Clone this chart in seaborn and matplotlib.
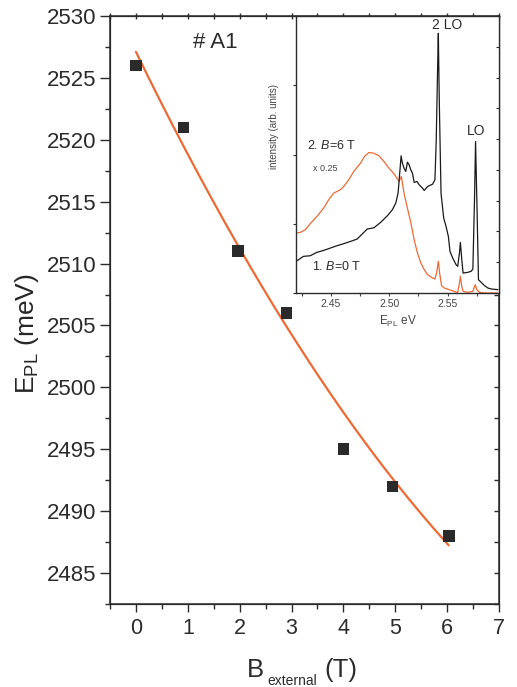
import numpy as np
import pandas as pd
import matplotlib
matplotlib.use("Agg")
import matplotlib.pyplot as plt
from matplotlib.ticker import MultipleLocator, NullFormatter
import seaborn as sns

# --- main panel: PL peak energy vs external field (sample #A1) ---
b_field = [0.0, 0.92, 1.97, 2.90, 4.00, 4.95, 6.03]
e_pl = [2526.0, 2521.0, 2511.0, 2506.0, 2495.0, 2492.0, 2488.0]

# quadratic fit E(B) = E0 + b*B + c*B^2
fit_e0, fit_b, fit_c = 2527.1, -8.6, 0.33
fit_range = (0.0, 6.03)

# --- inset: PL spectra (energy in eV, intensity in arb. units) ---
spec0_e = [2.4201, 2.4264, 2.4322, 2.4379, 2.4437, 2.4494, 2.4552, 2.4609, 2.4667, 2.4724,
           2.4810, 2.4868, 2.4925, 2.4983, 2.5026, 2.5055, 2.5075, 2.5089, 2.5101, 2.5112,
           2.5126, 2.5141, 2.5155, 2.5170, 2.5184, 2.5198, 2.5213, 2.5236, 2.5256, 2.5284,
           2.5299, 2.5328, 2.5371, 2.5391, 2.5402, 2.5414, 2.5420, 2.5428, 2.5443, 2.5466,
           2.5486, 2.5506, 2.5520, 2.5543, 2.5572, 2.5586, 2.5601, 2.5609, 2.5621, 2.5632,
           2.5672, 2.5701, 2.5716, 2.5730, 2.5739, 2.5750, 2.5764, 2.5787, 2.5816, 2.5845,
           2.5874, 2.5931]
spec0_i = [0.457, 0.529, 0.538, 0.587, 0.615, 0.649, 0.683, 0.712, 0.745, 0.779,
           0.923, 0.942, 1.019, 1.115, 1.202, 1.298, 1.442, 1.731, 1.981, 1.875,
           1.803, 1.755, 1.889, 1.851, 1.779, 1.731, 1.596, 1.611, 1.563, 1.514,
           1.481, 1.538, 1.572, 1.635, 2.212, 3.269, 3.750, 2.788, 1.442, 1.082,
           0.962, 0.817, 0.601, 0.505, 0.409, 0.385, 0.577, 0.731, 0.481, 0.288,
           0.298, 0.313, 0.346, 1.346, 2.188, 1.346, 0.192, 0.154, 0.106, 0.072,
           0.058, 0.048]

spec6_e = [2.4201, 2.4236, 2.4279, 2.4322, 2.4379, 2.4437, 2.4480, 2.4523, 2.4580, 2.4609,
           2.4652, 2.4695, 2.4753, 2.4787, 2.4825, 2.4868, 2.4911, 2.4954, 2.4997, 2.5040,
           2.5083, 2.5103, 2.5126, 2.5155, 2.5184, 2.5213, 2.5241, 2.5270, 2.5299, 2.5328,
           2.5371, 2.5391, 2.5405, 2.5420, 2.5431, 2.5448, 2.5471, 2.5514, 2.5572, 2.5586,
           2.5601, 2.5609, 2.5621, 2.5632, 2.5672, 2.5716, 2.5736, 2.5750, 2.5773, 2.5816,
           2.5931]
spec6_i = [0.865, 0.875, 0.913, 1.000, 1.106, 1.226, 1.346, 1.442, 1.490, 1.538,
           1.635, 1.755, 1.875, 1.971, 2.029, 2.019, 1.981, 1.899, 1.803, 1.721,
           1.611, 1.683, 1.442, 1.226, 1.019, 0.769, 0.577, 0.433, 0.337, 0.264,
           0.216, 0.202, 0.288, 0.457, 0.288, 0.106, 0.072, 0.048, 0.014, 0.010,
           0.144, 0.240, 0.096, 0.024, 0.010, 0.024, 0.120, 0.048, 0.010, 0.0,
           0.0]

INK = "#2b2b2b"
ORANGE = "#EE6A35"
W, H = 517, 687

sns.set_style("ticks")
plt.rcParams["font.family"] = ["Liberation Sans", "DejaVu Sans"]
plt.rcParams["mathtext.fontset"] = "custom"
plt.rcParams["mathtext.rm"] = "Liberation Sans"
plt.rcParams["mathtext.it"] = "Liberation Sans:italic"
plt.rcParams["mathtext.bf"] = "Liberation Sans:bold"
plt.rcParams["axes.edgecolor"] = INK
plt.rcParams["text.color"] = INK
plt.rcParams["xtick.color"] = INK
plt.rcParams["ytick.color"] = INK

fig = plt.figure(figsize=(W / 100, H / 100), dpi=100)
ax = fig.add_axes([0.2128, 0.1208, 0.7524, 0.8559])

df_pts = pd.DataFrame({"B": b_field, "E": e_pl})
bb = np.linspace(fit_range[0], fit_range[1], 200)
df_fit = pd.DataFrame({"B": bb, "E": fit_e0 + fit_b * bb + fit_c * bb ** 2})

sns.lineplot(data=df_fit, x="B", y="E", ax=ax, color=ORANGE, lw=1.6, zorder=2)
sns.scatterplot(data=df_pts, x="B", y="E", ax=ax, marker="s", s=70, color="#2a2a2a",
                edgecolor="none", zorder=3)

ax.set_xlim(-0.5, 7.0)
ax.set_ylim(2482.5, 2530)
ax.xaxis.set_major_locator(MultipleLocator(1))
ax.xaxis.set_minor_locator(MultipleLocator(0.5))
ax.yaxis.set_major_locator(MultipleLocator(5))
ax.yaxis.set_minor_locator(MultipleLocator(2.5))
ax.tick_params(axis="y", which="major", direction="out", length=7, width=1, labelsize=16, pad=3)
ax.tick_params(axis="y", which="minor", direction="out", length=3.8, width=1)
ax.tick_params(axis="x", which="major", direction="out", length=6, width=1, labelsize=15.5, pad=4)
ax.tick_params(axis="x", which="minor", direction="out", length=3.5, width=1)
for s in ax.spines.values():
    s.set_linewidth(1.1)
ax.set_xlabel("")
ax.set_ylabel(r"E$_{\mathrm{PL}}$ (meV)", fontsize=19)
ax.yaxis.set_label_coords(-0.178, 0.46)
ax.text(0.27, 0.955, "# A1", transform=ax.transAxes, fontsize=16,
        ha="center", va="center")

# x-axis title built from pieces so the subscript sits small and low
fig.text(247 / W, 1 - 677 / H, "B", fontsize=18.5, ha="left", va="baseline")
fig.text(267 / W, 1 - 685 / H, "external", fontsize=10, ha="left", va="baseline")
fig.text(324 / W, 1 - 677 / H, "(T)", fontsize=18.5, ha="left", va="baseline")

# mirrored inward ticks on the right and top frames
axr = ax.twinx()
axr.set_ylim(ax.get_ylim())
axr.yaxis.set_major_locator(MultipleLocator(2.5))
axr.yaxis.set_major_formatter(NullFormatter())
axr.tick_params(axis="y", direction="in", length=3.5, width=1)
axt = ax.twiny()
axt.set_xlim(ax.get_xlim())
axt.xaxis.set_major_locator(MultipleLocator(0.5))
axt.xaxis.set_major_formatter(NullFormatter())
axt.tick_params(axis="x", direction="inout", length=4, width=1)

# --- inset spectra ---
axi = fig.add_axes([0.5725, 0.5735, 0.3927, 0.4032])
axi.set_facecolor("white")
df0 = pd.DataFrame({"E": spec0_e, "I": spec0_i})
df6 = pd.DataFrame({"E": spec6_e, "I": spec6_i})
sns.lineplot(data=df6, x="E", y="I", ax=axi, color=ORANGE, lw=0.9, sort=False)
sns.lineplot(data=df0, x="E", y="I", ax=axi, color="#1a1a1a", lw=0.9, sort=False)
axi.set_xlim(2.42, 2.594)
axi.set_ylim(0, 4)
axi.xaxis.set_major_locator(MultipleLocator(0.05))
axi.xaxis.set_minor_locator(MultipleLocator(0.025))
axi.xaxis.set_major_formatter(plt.FormatStrFormatter("%.2f"))
axi.yaxis.set_major_locator(MultipleLocator(1))
axi.yaxis.set_major_formatter(NullFormatter())
axi.yaxis.set_minor_locator(MultipleLocator(4 / 9))
axi.tick_params(axis="x", which="both", direction="out", length=2.5, width=0.8,
                labelsize=7.5, colors="#444444", pad=2)
axi.tick_params(axis="y", which="major", direction="out", length=2.5, width=0.8,
                left=True, right=False)
axi.tick_params(axis="y", which="minor", direction="in", length=2.5, width=0.8,
                left=False, right=True)
for s in axi.spines.values():
    s.set_linewidth(1.0)
axi.set_xlabel(r"E$_{\mathrm{PL}}$ eV", fontsize=8.5, color="#444444", labelpad=3)
axi.set_ylabel("intensity (arb. units)", fontsize=7, color="#444444")
axi.yaxis.set_label_coords(-0.085, 0.6)

axi.text(0.742, 0.967, "2 LO", transform=axi.transAxes, fontsize=10, ha="center", va="center")
axi.text(0.887, 0.585, "LO", transform=axi.transAxes, fontsize=10, ha="center", va="center")
axi.text(0.053, 0.534, r"2. $\mathit{B}$=6 T", transform=axi.transAxes, fontsize=9,
         ha="left", va="center")
axi.text(0.082, 0.451, "x 0.25", transform=axi.transAxes, fontsize=6.5,
         ha="left", va="center", color="#444444")
axi.text(0.077, 0.094, r"1. $\mathit{B}$=0 T", transform=axi.transAxes, fontsize=9,
         ha="left", va="center")

fig.savefig("out.png", dpi=100)
